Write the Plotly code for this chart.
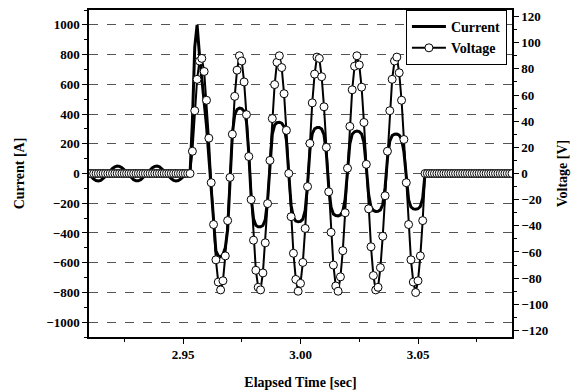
import plotly.graph_objects as go

# ---------------- data ----------------
time_s = [
    2.910, 2.911, 2.912, 2.913, 2.914, 2.915, 2.916, 2.917, 2.918, 2.919,
    2.920, 2.921, 2.922, 2.923, 2.924, 2.925, 2.926, 2.927, 2.928, 2.929,
    2.930, 2.931, 2.932, 2.933, 2.934, 2.935, 2.936, 2.937, 2.938, 2.939,
    2.940, 2.941, 2.942, 2.943, 2.944, 2.945, 2.946, 2.947, 2.948, 2.949,
    2.950, 2.951, 2.952, 2.953, 2.954, 2.955, 2.956, 2.957, 2.958, 2.959,
    2.960, 2.961, 2.962, 2.963, 2.964, 2.965, 2.966, 2.967, 2.968, 2.969,
    2.970, 2.971, 2.972, 2.973, 2.974, 2.975, 2.976, 2.977, 2.978, 2.979,
    2.980, 2.981, 2.982, 2.983, 2.984, 2.985, 2.986, 2.987, 2.988, 2.989,
    2.990, 2.991, 2.992, 2.993, 2.994, 2.995, 2.996, 2.997, 2.998, 2.999,
    3.000, 3.001, 3.002, 3.003, 3.004, 3.005, 3.006, 3.007, 3.008, 3.009,
    3.010, 3.011, 3.012, 3.013, 3.014, 3.015, 3.016, 3.017, 3.018, 3.019,
    3.020, 3.021, 3.022, 3.023, 3.024, 3.025, 3.026, 3.027, 3.028, 3.029,
    3.030, 3.031, 3.032, 3.033, 3.034, 3.035, 3.036, 3.037, 3.038, 3.039,
    3.040, 3.041, 3.042, 3.043, 3.044, 3.045, 3.046, 3.047, 3.048, 3.049,
    3.050, 3.051, 3.052, 3.053, 3.054, 3.055, 3.056, 3.057, 3.058, 3.059,
    3.060, 3.061, 3.062, 3.063, 3.064, 3.065, 3.066, 3.067, 3.068, 3.069,
    3.070, 3.071, 3.072, 3.073, 3.074, 3.075, 3.076, 3.077, 3.078, 3.079,
    3.080, 3.081, 3.082, 3.083, 3.084, 3.085, 3.086, 3.087, 3.088, 3.089,
    3.090,
]

current_a = [
    # 2.910 - 2.953 : small ripple before the event
    -5, -23, -38, -47, -50, -46, -35, -19, -1, 18,
    34, 45, 50, 48, 39, 24, 7, -12, -29, -42,
    -49, -49, -42, -29, -12, 7, 24, 39, 48, 50,
    45, 34, 17, -1, -19, -35, -46, -50, -47, -38,
    -23, -12, -4, 0,
    # 2.954 - 3.052 : event
    350, 850, 1000, 800, 650, 500, 320, 110, -120, -350, -520, -555, -560, -545, -500, -380, -20,
    267, 395, 431, 440, 437, 419, 350, 133,
    -159, -304, -348, -359, -359, -350, -311, -179,
    81, 265, 326, 342, 345, 339, 315, 224,
    0,
    -213, -297, -320, -325, -322, -307, -248, -73,
    156, 268, 301, 309, 309, 299, 261, 135,
    -88, -227, -272, -283, -285, -279, -256, -172,
    24, 199, 264, 281, 285, 282, 266, 208, 43,
    -142, -225, -249, -255, -254, -245, -209, -94,
    100, 218, 255, 264, 265, 258, 233, 146,
    -39, -176, -225, -238, -240, -237, -222, -166,
    # 3.053 - 3.090 : after the event
    0, 0, 0, 0, 0, 0, 0, 0, 0, 0,
    0, 0, 0, 0, 0, 0, 0, 0, 0, 0,
    0, 0, 0, 0, 0, 0, 0, 0, 0, 0,
    0, 0, 0, 0, 0, 0, 0, 0,
]

voltage_v = [
    # 2.910 - 2.953
    0, 0, 0, 0, 0, 0, 0, 0, 0, 0,
    0, 0, 0, 0, 0, 0, 0, 0, 0, 0,
    0, 0, 0, 0, 0, 0, 0, 0, 0, 0,
    0, 0, 0, 0, 0, 0, 0, 0, 0, 0,
    0, 0, 0, 0,
    # 2.954 - 3.052
    17, 48, 72, 86, 88, 78, 56, 27, -7, -39, -66, -83, -89, -82, -63, -36, -3,
    30, 59, 79, 90, 86, 70, 45, 13, -20, -51, -74, -87, -89, -76, -53, -23,
    10, 42, 68, 85, 90, 81, 61, 33, 0, -33, -61, -81, -90, -84, -68, -42, -10,
    23, 54, 76, 89, 88, 74, 51, 20, -14, -45, -70, -86, -90, -79, -59, -30,
    4, 36, 64, 82, 90, 83, 66, 39, 7, -27, -56, -78, -89, -87, -72, -48, -17,
    17, 48, 72, 86, 89, 77, 56, 26, -7, -39, -66, -83, -91, -82, -63, -36,
    # 3.053 - 3.090
    0, 0, 0, 0, 0, 0, 0, 0, 0, 0,
    0, 0, 0, 0, 0, 0, 0, 0, 0, 0,
    0, 0, 0, 0, 0, 0, 0, 0, 0, 0,
    0, 0, 0, 0, 0, 0, 0, 0,
]

x_tickvals = [2.95, 3.00, 3.05]
x_ticktext = ["2.95", "3.00", "3.05"]
current_ticks = [-1000, -800, -600, -400, -200, 0, 200, 400, 600, 800, 1000]
voltage_ticks = [-120, -100, -80, -60, -40, -20, 0, 20, 40, 60, 80, 100, 120]

# ---------------- figure ----------------
FONT = "Liberation Serif"
tick_font = dict(family=FONT, size=13, color="black", weight="bold")
title_font = dict(family=FONT, size=14, color="black", weight="bold")

fig = go.Figure()
fig.add_trace(go.Scatter(
    x=time_s, y=current_a, mode="lines", name="Current",
    line=dict(color="black", width=3), yaxis="y",
))
fig.add_trace(go.Scatter(
    x=time_s, y=voltage_v, mode="lines+markers", name="Voltage",
    line=dict(color="black", width=2),
    marker=dict(symbol="circle", size=8, color="white",
                line=dict(color="black", width=1)),
    yaxis="y2",
))

fig.update_layout(
    width=579, height=391,
    margin=dict(l=89, r=67, t=10, b=54),
    paper_bgcolor="white", plot_bgcolor="white",
    font=dict(family=FONT, color="black", size=13),
    showlegend=True,
    legend=dict(
        x=0.988, xanchor="right", y=1.0, yanchor="top",
        bordercolor="black", borderwidth=1, bgcolor="white",
        font=dict(family=FONT, size=14, color="black", weight="bold"),
        tracegroupgap=0, itemwidth=34,
    ),
    xaxis=dict(
        range=[2.91, 3.09], automargin=False,
        tickmode="array", tickvals=x_tickvals, ticktext=x_ticktext,
        ticks="outside", ticklen=5, tickwidth=1, tickcolor="black",
        tickfont=tick_font,
        minor=dict(tickmode="linear", tick0=2.9, dtick=0.025,
                   ticks="outside", ticklen=3, tickcolor="black"),
        showline=True, linecolor="black", linewidth=1.5, mirror=True,
        showgrid=False, zeroline=False,
        title=dict(text="Elapsed Time [sec]", font=title_font, standoff=16),
    ),
    yaxis=dict(
        range=[-1100, 1100], automargin=False,
        tickmode="array", tickvals=current_ticks,
        ticks="outside", ticklen=5, tickwidth=1, tickcolor="black",
        tickfont=tick_font,
        minor=dict(tickmode="linear", tick0=0, dtick=100,
                   ticks="outside", ticklen=3, tickcolor="black",
                   showgrid=False),
        showline=True, linecolor="black", linewidth=1.5,
        showgrid=True, gridcolor="#555555", gridwidth=1, griddash="dash",
        zeroline=False,
        title=dict(text="Current [A]", font=title_font, standoff=18),
    ),
    yaxis2=dict(
        range=[-125, 125], overlaying="y", side="right", automargin=False,
        tickmode="array", tickvals=voltage_ticks,
        ticks="outside", ticklen=5, tickwidth=1, tickcolor="black",
        tickfont=tick_font,
        minor=dict(tickmode="linear", tick0=0, dtick=10,
                   ticks="outside", ticklen=3, tickcolor="black",
                   showgrid=False),
        showline=True, linecolor="black", linewidth=1.5,
        showgrid=False, zeroline=False,
        title=dict(text="Voltage [V]", font=title_font, standoff=10),
    ),
)

fig.write_html("out.html")
